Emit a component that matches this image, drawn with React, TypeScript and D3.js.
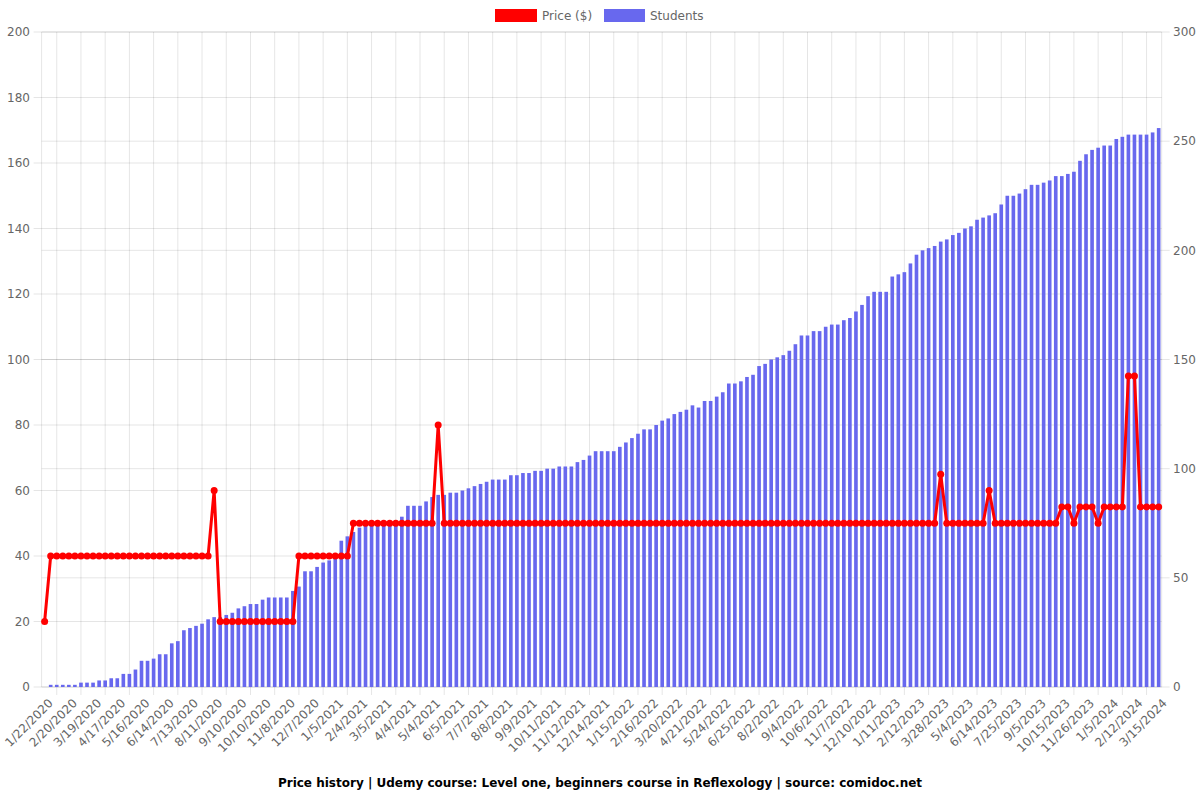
import React from "react";
import * as d3 from "d3";

const tickLabels = [
  "1/22/2020", "2/20/2020", "3/19/2020", "4/17/2020", "5/16/2020", "6/14/2020", "7/13/2020", "8/11/2020",
  "9/10/2020", "10/10/2020", "11/8/2020", "12/7/2020", "1/5/2021", "2/4/2021", "3/5/2021", "4/4/2021",
  "5/4/2021", "6/5/2021", "7/7/2021", "8/8/2021", "9/9/2021", "10/11/2021", "11/12/2021", "12/14/2021",
  "1/15/2022", "2/16/2022", "3/20/2022", "4/21/2022", "5/24/2022", "6/25/2022", "8/2/2022", "9/4/2022",
  "10/6/2022", "11/7/2022", "12/10/2022", "1/11/2023", "2/12/2023", "3/28/2023", "5/4/2023", "6/14/2023",
  "7/25/2023", "9/5/2023", "10/15/2023", "11/26/2023", "1/5/2024", "2/12/2024", "3/15/2024",
];

const price = [
  20, 40, 40, 40, 40, 40, 40, 40, 40, 40,
  40, 40, 40, 40, 40, 40, 40, 40, 40, 40,
  40, 40, 40, 40, 40, 40, 40, 40, 60, 20,
  20, 20, 20, 20, 20, 20, 20, 20, 20, 20,
  20, 20, 40, 40, 40, 40, 40, 40, 40, 40,
  40, 50, 50, 50, 50, 50, 50, 50, 50, 50,
  50, 50, 50, 50, 50, 80, 50, 50, 50, 50,
  50, 50, 50, 50, 50, 50, 50, 50, 50, 50,
  50, 50, 50, 50, 50, 50, 50, 50, 50, 50,
  50, 50, 50, 50, 50, 50, 50, 50, 50, 50,
  50, 50, 50, 50, 50, 50, 50, 50, 50, 50,
  50, 50, 50, 50, 50, 50, 50, 50, 50, 50,
  50, 50, 50, 50, 50, 50, 50, 50, 50, 50,
  50, 50, 50, 50, 50, 50, 50, 50, 50, 50,
  50, 50, 50, 50, 50, 50, 50, 50, 65, 50,
  50, 50, 50, 50, 50, 50, 60, 50, 50, 50,
  50, 50, 50, 50, 50, 50, 50, 50, 55, 55,
  50, 55, 55, 55, 50, 55, 55, 55, 55, 95,
  95, 55, 55, 55, 55,
];

const students = [
  0, 1, 1, 1, 1, 1, 2, 2, 2, 3,
  3, 4, 4, 6, 6, 8, 12, 12, 13, 15,
  15, 20, 21, 26, 27, 28, 29, 31, 32, 32,
  33, 34, 36, 37, 38, 38, 40, 41, 41, 41,
  41, 44, 46, 53, 53, 55, 57, 58, 59, 67,
  69, 71, 73, 74, 74, 75, 75, 76, 76, 78,
  83, 83, 83, 85, 87, 88, 88, 89, 89, 90,
  91, 92, 93, 94, 95, 95, 95, 97, 97, 98,
  98, 99, 99, 100, 100, 101, 101, 101, 103, 104,
  106, 108, 108, 108, 108, 110, 112, 114, 116, 118,
  118, 120, 122, 123, 125, 126, 127, 129, 128, 131,
  131, 133, 135, 139, 139, 140, 142, 143, 147, 148,
  150, 151, 152, 154, 157, 161, 161, 163, 163, 165,
  166, 166, 168, 169, 172, 175, 179, 181, 181, 181,
  188, 189, 190, 194, 198, 200, 201, 202, 204, 205,
  207, 208, 210, 211, 214, 215, 216, 217, 221, 225,
  225, 226, 228, 230, 230, 231, 232, 234, 234, 235,
  236, 241, 244, 246, 247, 248, 248, 251, 252, 253,
  253, 253, 253, 254, 256,
];

const LABEL_EVERY = 4;
const FONT = "'DejaVu Sans', sans-serif";
const TEXT = "#666";
const GRID = "rgba(0,0,0,0.1)";
const RED = "#ff0000";
const BLUE = "#6868ee";

export default function App() {
  const W = 1200;
  const H = 800;
  const left = 41.6;
  const right = 1161.7;
  const top = 32;
  const bottom = 687;

  const idx = d3.range(students.length);
  const x = d3
    .scaleBand<number>()
    .domain(idx)
    .range([left, right])
    .paddingInner(0.4)
    .paddingOuter(0.2);
  const step = x.step();
  const cx = (i: number) => (x(i) as number) + x.bandwidth() / 2;
  const yL = d3.scaleLinear().domain([0, 200]).range([bottom, top]);
  const yR = d3.scaleLinear().domain([0, 300]).range([bottom, top]);
  const leftTicks = d3.range(0, 201, 20);
  const rightTicks = d3.range(0, 301, 50);
  const shown = idx.filter((i) => i % LABEL_EVERY === 0);

  const line = d3
    .line<number>()
    .x((_, i) => cx(i))
    .y((d) => yL(d));

  return (
    <svg
      width={W}
      height={H}
      style={{ position: "absolute", left: 0, top: 0, background: "#fff" }}
      fontFamily={FONT}
    >
      {/* vertical grid */}
      {shown.map((i) => {
        const gx = cx(i) - (step * LABEL_EVERY) / 2;
        if (gx < left - 0.5) return null;
        return <line key={"vg" + i} x1={gx} x2={gx} y1={top} y2={bottom + 8} stroke={GRID} />;
      })}
      <line x1={left} x2={left} y1={top} y2={bottom} stroke={GRID} />
      <line x1={right} x2={right} y1={top} y2={bottom} stroke={GRID} />
      {/* horizontal grid left axis */}
      {leftTicks.map((t) => (
        <line key={"hl" + t} x1={left - 8} x2={right} y1={yL(t)} y2={yL(t)} stroke={GRID} />
      ))}
      {rightTicks.map((t) => (
        <line key={"hr" + t} x1={left} x2={right + 8} y1={yR(t)} y2={yR(t)} stroke={GRID} />
      ))}

      {/* bars */}
      {students.map((v, i) => (
        <rect
          key={"b" + i}
          x={x(i)}
          y={yR(v)}
          width={x.bandwidth()}
          height={bottom - yR(v)}
          fill={BLUE}
        />
      ))}

      {/* price line */}
      <path d={line(price) || ""} fill="none" stroke={RED} strokeWidth={3} strokeLinejoin="round" />
      {price.map((v, i) => (
        <circle key={"p" + i} cx={cx(i)} cy={yL(v)} r={3.5} fill={RED} />
      ))}

      {/* axis labels */}
      {leftTicks.map((t) => (
        <text key={"ll" + t} x={30} y={yL(t)} dy="0.35em" textAnchor="end" fontSize={12} fill={TEXT}>
          {t}
        </text>
      ))}
      {rightTicks.map((t) => (
        <text key={"rl" + t} x={1173} y={yR(t)} dy="0.35em" textAnchor="start" fontSize={12} fill={TEXT}>
          {t}
        </text>
      ))}
      {shown.map((i, k) => (
        <text
          key={"xl" + i}
          transform={`translate(${cx(i) + 6},${bottom + 14}) rotate(-45)`}
          textAnchor="end"
          dy="0.35em"
          fontSize={12}
          fill={TEXT}
        >
          {tickLabels[k]}
        </text>
      ))}

      {/* legend */}
      <rect x={495} y={9} width={42} height={13} fill={RED} />
      <text x={542} y={15.5} dy="0.35em" fontSize={12} fill={TEXT}>
        Price ($)
      </text>
      <rect x={604} y={9} width={41} height={13} fill={BLUE} />
      <text x={650} y={15.5} dy="0.35em" fontSize={12} fill={TEXT}>
        Students
      </text>

      {/* title */}
      <text x={600} y={783} dy="0.35em" textAnchor="middle" fontSize={12} fontWeight="bold" fill="#000">
        Price history | Udemy course: Level one, beginners course in Reflexology | source: comidoc.net
      </text>
    </svg>
  );
}
